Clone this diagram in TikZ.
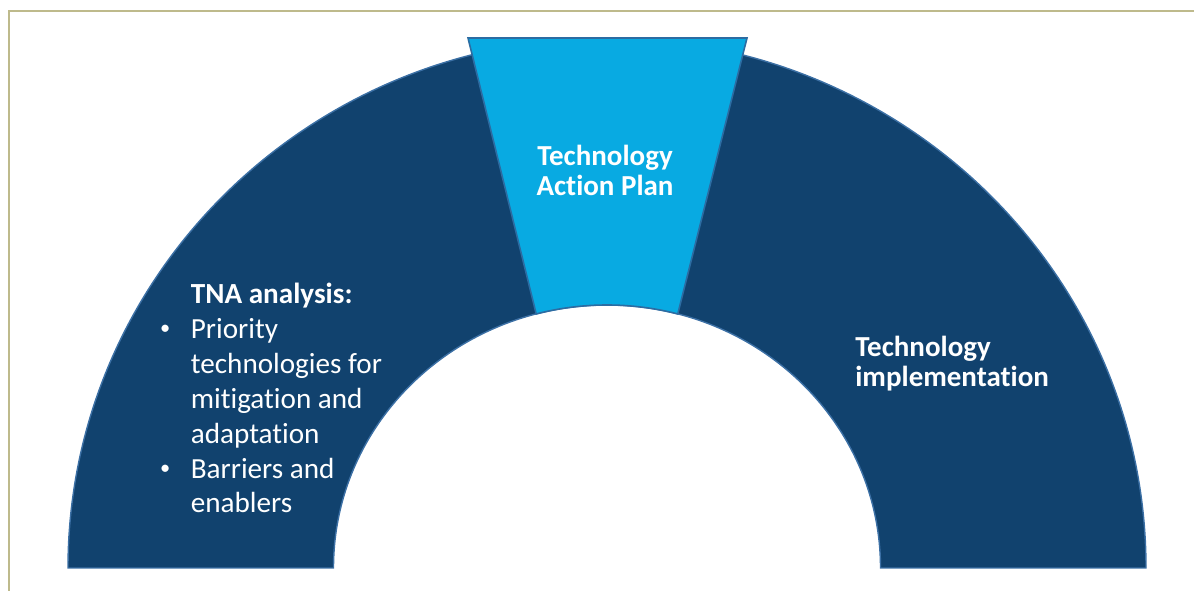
\documentclass[tikz,border=0pt]{standalone}
\usepackage{fontspec}
\setmainfont{Carlito}[Ligatures=NoCommon]
\usepackage{tikz}
\usetikzlibrary{calc}
\definecolor{arcDark}{RGB}{17,66,110}
\definecolor{arcEdge}{RGB}{60,112,165}
\definecolor{planLight}{RGB}{8,170,226}
\definecolor{planEdge}{RGB}{44,108,162}
\definecolor{frameOlive}{RGB}{190,186,140}
\newcommand{\listDot}{\llap{\raisebox{0.12em}{\scalebox{0.7}{\textbullet}}\hspace{0.41cm}}}

\begin{document}
\begin{tikzpicture}[
    x=0.02cm, y=0.02cm,
    every node/.style={inner sep=0pt, text=white},
    arcBlock/.style={fill=arcDark, draw=arcEdge, line width=0.8pt},
    planBlock/.style={fill=planLight, draw=planEdge, line width=0.9pt},
    frameLine/.style={draw=frameOlive, line width=1.4pt},
    boldText/.style={font=\fontsize{16.5}{17.4}\selectfont\bfseries},
    listText/.style={font=\fontsize{16.6}{19.9}\selectfont, align=left}
]
\useasboundingbox (0,0) rectangle (1194,591);

% Frame
\draw [frameLine] (1194,580) -- (9,580) -- (9,0);

% Half ring
\coordinate (c) at (607,23);
\path [arcBlock] ($(c)+(-539,0)$) arc[start angle=180, end angle=0, x radius=539, y radius=530]
    -- ($(c)+(273.5,0)$) arc[start angle=0, end angle=180, x radius=273.5, y radius=263] -- cycle;

% Action plan wedge
\coordinate (topL) at (468,553);
\coordinate (topR) at (747,553);
\coordinate (botR) at ($(c)+(75:273.5 and 263)$);
\path [planBlock] (topL) -- (topR) -- (botR)
    arc[start angle=75, end angle=105, x radius=273.5, y radius=263] -- cycle;

% Labels (base = last line)
\node (plan) [boldText, align=center, anchor=base] at (605,395) {Technology\\Action Plan};
\node (impl) [boldText, align=left, anchor=base west] at (855,204) {Technology\\implementation};
\node (tna) [listText, anchor=base west] at (190.5,78) {\textbf{TNA analysis:}\\
    \listDot Priority\\
    technologies for\\
    mitigation and\\
    adaptation\\
    \listDot Barriers and\\
    enablers};

\end{tikzpicture}
\end{document}
